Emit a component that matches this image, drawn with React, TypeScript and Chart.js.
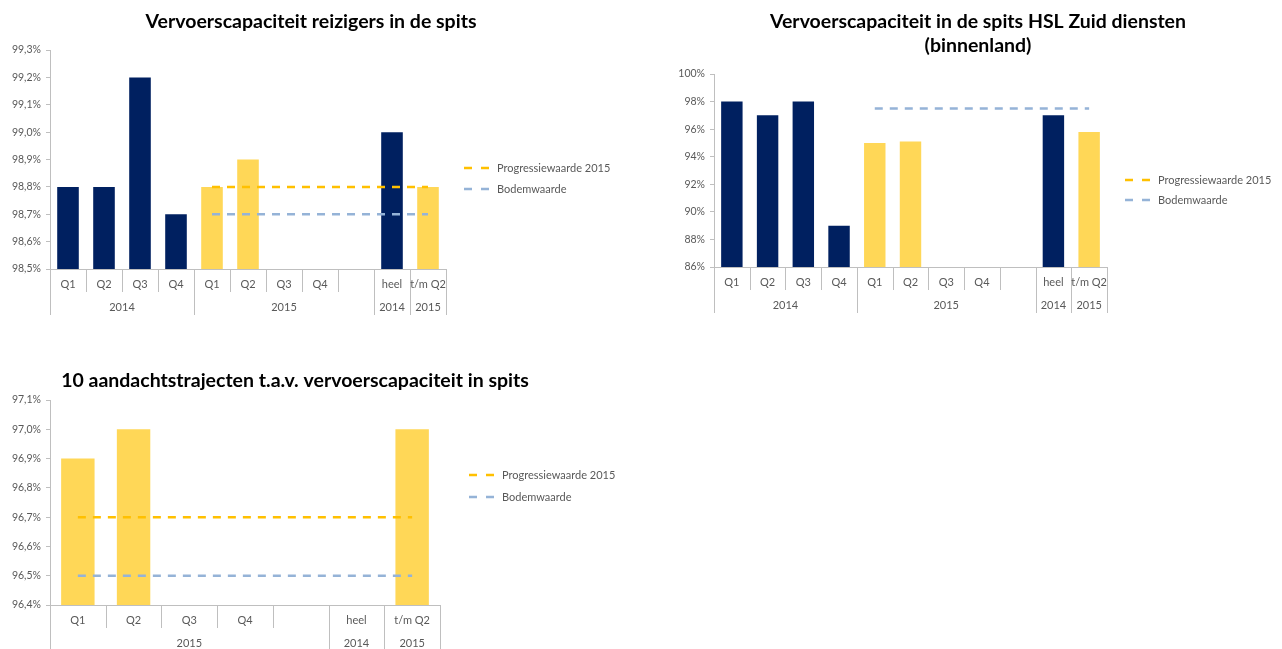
import { useEffect, useRef } from 'react';
import { Chart, registerables } from 'chart.js';

Chart.register(...registerables);

// ---------- Chart 1: Vervoerscapaciteit reizigers in de spits ----------
const c1Title = ['Vervoerscapaciteit reizigers in de spits'];
const c1Categories = ['Q1', 'Q2', 'Q3', 'Q4', 'Q1', 'Q2', 'Q3', 'Q4', '', 'heel', 't/m Q2'];
const c1GroupLabels = ['2014', '2015', '2014', '2015'];
const c1GroupSpans = [4, 5, 1, 1];
const c1BarYears = ['2014', '2014', '2014', '2014', '2015', '2015', '2015', '2015', '2015', '2014', '2015'];
const c1Values = [98.8, 98.8, 99.2, 98.7, 98.8, 98.9, null, null, null, 99.0, 98.8];
const c1Progressie = [null, null, null, null, 98.8, 98.8, 98.8, 98.8, 98.8, 98.8, 98.8];
const c1Bodem = [null, null, null, null, 98.7, 98.7, 98.7, 98.7, 98.7, 98.7, 98.7];
const c1YTicks = [98.5, 98.6, 98.7, 98.8, 98.9, 99.0, 99.1, 99.2, 99.3];

// ---------- Chart 2: HSL Zuid diensten ----------
const c2Title = ['Vervoerscapaciteit in de spits HSL Zuid diensten', '(binnenland)'];
const c2Categories = ['Q1', 'Q2', 'Q3', 'Q4', 'Q1', 'Q2', 'Q3', 'Q4', '', 'heel', 't/m Q2'];
const c2GroupLabels = ['2014', '2015', '2014', '2015'];
const c2GroupSpans = [4, 5, 1, 1];
const c2BarYears = ['2014', '2014', '2014', '2014', '2015', '2015', '2015', '2015', '2015', '2014', '2015'];
const c2Values = [98, 97, 98, 89, 95, 95.1, null, null, null, 97, 95.8];
const c2Progressie: (number | null)[] = [null, null, null, null, null, null, null, null, null, null, null];
const c2Bodem = [null, null, null, null, 97.5, 97.5, 97.5, 97.5, 97.5, 97.5, 97.5];
const c2YTicks = [86, 88, 90, 92, 94, 96, 98, 100];

// ---------- Chart 3: 10 aandachtstrajecten ----------
const c3Title = ['10 aandachtstrajecten t.a.v. vervoerscapaciteit in spits'];
const c3Categories = ['Q1', 'Q2', 'Q3', 'Q4', '', 'heel', 't/m Q2'];
const c3GroupLabels = ['2015', '2014', '2015'];
const c3GroupSpans = [5, 1, 1];
const c3BarYears = ['2015', '2015', '2015', '2015', '2015', '2014', '2015'];
const c3Values = [96.9, 97.0, null, null, null, null, 97.0];
const c3Progressie = [96.7, 96.7, 96.7, 96.7, 96.7, 96.7, 96.7];
const c3Bodem = [96.5, 96.5, 96.5, 96.5, 96.5, 96.5, 96.5];
const c3YTicks = [96.4, 96.5, 96.6, 96.7, 96.8, 96.9, 97.0, 97.1];

const seriesLabels = ['Progressiewaarde 2015', 'Bodemwaarde'];

// ---------- styles ----------
const FONT = 'Lato, "Liberation Sans", sans-serif';
const NAVY = '#002060';
const YELLOW = '#FFD757';
const ORANGE = '#FFC000';
const BLUE = '#95B3D7';
const AXIS = '#BFBFBF';
const TEXT = '#595959';

Chart.defaults.font.family = FONT;

type Spec = {
  title: string[];
  titleX: number;
  titleY: number;
  titleLineH: number;
  titleWidths: number[];
  categories: string[];
  groupLabels: string[];
  groupSpans: number[];
  barYears: string[];
  values: (number | null)[];
  progressie: (number | null)[];
  bodem: (number | null)[];
  yTicks: number[];
  decimals: number;
  yAxisW: number;
  top: number;
  padRight: number;
  padBottom: number;
  xAxisH: number;
  legendX: number;
  legendY: number;
  legendGap: number;
};

function makeDecor(s: Spec) {
  return {
    id: 'decor',
    afterDraw(chart: any) {
      const ctx: CanvasRenderingContext2D = chart.ctx;
      const xs = chart.scales.x;
      const area = chart.chartArea;
      const n = s.categories.length;
      ctx.save();

      // title
      ctx.fillStyle = '#000000';
      ctx.font = `bold 19.5px ${FONT}`;
      ctx.textAlign = 'center';
      ctx.textBaseline = 'middle';
      s.title.forEach((t, i) => {
        ctx.fillText(t, s.titleX, s.titleY + i * s.titleLineH, s.titleWidths[i]);
      });

      // category boundaries
      const boundary = (k: number) => {
        if (k <= 0) return xs.left;
        if (k >= n) return xs.right;
        return (xs.getPixelForValue(k - 1) + xs.getPixelForValue(k)) / 2;
      };
      const groupBounds = new Set<number>();
      let acc = 0;
      groupBounds.add(0);
      s.groupSpans.forEach((sp) => {
        acc += sp;
        groupBounds.add(acc);
      });

      ctx.strokeStyle = AXIS;
      ctx.lineWidth = 1;
      for (let k = 0; k <= n; k++) {
        const px = Math.round(boundary(k)) + 0.5;
        const len = groupBounds.has(k) ? 46 : 23;
        ctx.beginPath();
        ctx.moveTo(px, area.bottom);
        ctx.lineTo(px, area.bottom + len);
        ctx.stroke();
      }

      // category labels
      ctx.fillStyle = TEXT;
      ctx.font = `11px ${FONT}`;
      ctx.textAlign = 'center';
      ctx.textBaseline = 'middle';
      s.categories.forEach((c, i) => {
        ctx.fillText(c, xs.getPixelForValue(i), area.bottom + 15);
      });
      // group labels
      let start = 0;
      s.groupSpans.forEach((sp, g) => {
        const cx = (boundary(start) + boundary(start + sp)) / 2;
        ctx.fillText(s.groupLabels[g], cx, area.bottom + 38);
        start += sp;
      });

      // legend
      const lines = chart.data.datasets.filter((d: any) => d.type === 'line');
      ctx.textAlign = 'left';
      lines.forEach((d: any, i: number) => {
        const y = s.legendY + i * s.legendGap;
        ctx.strokeStyle = d.borderColor;
        ctx.lineWidth = 2.5;
        ctx.setLineDash([8, 9]);
        ctx.beginPath();
        ctx.moveTo(s.legendX, y);
        ctx.lineTo(s.legendX + 25, y);
        ctx.stroke();
        ctx.setLineDash([]);
        ctx.fillStyle = TEXT;
        ctx.fillText(d.label, s.legendX + 33, y);
      });
      ctx.restore();
    },
  };
}

function buildConfig(s: Spec): any {
  const lineDs = (label: string, data: (number | null)[], color: string, order: number) => ({
    type: 'line',
    label,
    data,
    borderColor: color,
    backgroundColor: color,
    borderWidth: 2.5,
    borderDash: [8, 7],
    pointRadius: 0,
    pointHoverRadius: 0,
    fill: false,
    spanGaps: true,
    order,
  });
  return {
    type: 'bar',
    data: {
      labels: s.categories,
      datasets: [
        lineDs(seriesLabels[0], s.progressie, ORANGE, 0),
        lineDs(seriesLabels[1], s.bodem, BLUE, 1),
        {
          type: 'bar',
          label: 'Waarde',
          data: s.values,
          backgroundColor: s.barYears.map((y) => (y === '2014' ? NAVY : YELLOW)),
          barPercentage: 0.6,
          categoryPercentage: 1,
          order: 2,
        },
      ],
    },
    options: {
      responsive: false,
      animation: false,
      events: [],
      layout: { padding: { left: 0, top: s.top, right: s.padRight, bottom: s.padBottom } },
      scales: {
        x: {
          grid: { display: false },
          border: { color: AXIS, width: 1 },
          ticks: { display: false },
          afterFit: (sc: any) => {
            sc.height = s.xAxisH;
          },
        },
        y: {
          min: s.yTicks[0],
          max: s.yTicks[s.yTicks.length - 1],
          beginAtZero: false,
          afterBuildTicks: (sc: any) => {
            sc.ticks = s.yTicks.map((v) => ({ value: v }));
          },
          ticks: {
            color: TEXT,
            font: { size: 10.5, family: FONT },
            padding: 5,
            callback: (v: any) => Number(v).toFixed(s.decimals).replace('.', ',') + '%',
          },
          grid: { drawOnChartArea: false, drawTicks: true, tickLength: 4, color: AXIS },
          border: { color: AXIS, width: 1 },
          afterFit: (sc: any) => {
            sc.width = s.yAxisW;
          },
        },
      },
      plugins: { legend: { display: false }, tooltip: { enabled: false }, title: { display: false } },
    },
    plugins: [makeDecor(s)],
  };
}

const spec1: Spec = {
  title: c1Title, titleX: 311, titleY: 22, titleLineH: 24, titleWidths: [331],
  categories: c1Categories, groupLabels: c1GroupLabels, groupSpans: c1GroupSpans, barYears: c1BarYears,
  values: c1Values, progressie: c1Progressie, bodem: c1Bodem, yTicks: c1YTicks, decimals: 1,
  yAxisW: 50, top: 50, padRight: 640 - 446, padBottom: 330 - 269 - 46, xAxisH: 46,
  legendX: 464, legendY: 168, legendGap: 21,
};

const spec2: Spec = {
  title: c2Title, titleX: 338, titleY: 22, titleLineH: 24, titleWidths: [416, 112],
  categories: c2Categories, groupLabels: c2GroupLabels, groupSpans: c2GroupSpans, barYears: c2BarYears,
  values: c2Values, progressie: c2Progressie, bodem: c2Bodem, yTicks: c2YTicks, decimals: 0,
  yAxisW: 74, top: 74, padRight: 642 - 467, padBottom: 330 - 267 - 46, xAxisH: 46,
  legendX: 485, legendY: 180, legendGap: 20,
};

const spec3: Spec = {
  title: c3Title, titleX: 295, titleY: 26, titleLineH: 24, titleWidths: [473],
  categories: c3Categories, groupLabels: c3GroupLabels, groupSpans: c3GroupSpans, barYears: c3BarYears,
  values: c3Values, progressie: c3Progressie, bodem: c3Bodem, yTicks: c3YTicks, decimals: 1,
  yAxisW: 50, top: 45, padRight: 640 - 440, padBottom: 294 - 250 - 40, xAxisH: 40,
  legendX: 469, legendY: 120, legendGap: 22,
};

function ChartBox({ spec, left, top, width, height }: { spec: Spec; left: number; top: number; width: number; height: number }) {
  const ref = useRef<HTMLCanvasElement>(null);
  useEffect(() => {
    const chart = new Chart(ref.current as HTMLCanvasElement, buildConfig(spec));
    return () => chart.destroy();
  }, [spec]);
  return (
    <canvas
      ref={ref}
      width={width}
      height={height}
      style={{ position: 'absolute', left, top, width, height, display: 'block' }}
    />
  );
}

export default function App() {
  return (
    <div style={{ position: 'absolute', left: 0, top: 0, width: 1282, height: 649, background: '#ffffff', overflow: 'hidden' }}>
      <ChartBox spec={spec1} left={0} top={0} width={640} height={330} />
      <ChartBox spec={spec2} left={640} top={0} width={642} height={330} />
      <ChartBox spec={spec3} left={0} top={355} width={640} height={294} />
    </div>
  );
}
